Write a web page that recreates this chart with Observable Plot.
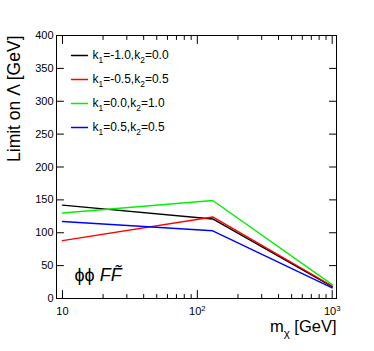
<!DOCTYPE html>
<html><head><meta charset="utf-8">
<script src="https://cdn.jsdelivr.net/npm/d3@7"></script>
<script src="https://cdn.jsdelivr.net/npm/@observablehq/plot@0.6"></script>
<style>
html,body{margin:0;padding:0;background:#fff;}
</style></head><body><div id="chart"></div>
<script>
// ---- data ----
const masses = [10, 130, 1000];
const seriesNames = ["k_{1}=-1.0,k_{2}=0.0", "k_{1}=-0.5,k_{2}=0.5", "k_{1}=0.0,k_{2}=1.0", "k_{1}=0.5,k_{2}=0.5"];
const seriesColors = ["#000000", "#ff0000", "#00f000", "#0000ff"];
const limitsK1m10 = [142, 121, 18];
const limitsK1m05 = [88, 124, 19];
const limitsK1p00 = [130, 149, 21];
const limitsK1p05 = [117, 103, 16];
const yTickValues = [0, 50, 100, 150, 200, 250, 300, 350, 400];
const xMajorTicks = [10, 100, 1000];
const xMinorTicks = [20, 30, 40, 50, 60, 70, 80, 90, 200, 300, 400, 500, 600, 700, 800, 900];
const xTickLabels = ["10", "10^{2}", "10^{3}"];
const xTitle = "m_{χ} [GeV]";
const yTitle = "Limit on Λ [GeV]";
const annotation = "ϕϕ #it{FF̃}";

const allLimits = [limitsK1m10, limitsK1m05, limitsK1p00, limitsK1p05];
const rows = allLimits.flatMap((vals, s) => vals.map((v, i) => ({series: seriesNames[s], m: masses[i], limit: v})));

const spike = {draw(ctx, l) { ctx.moveTo(0, 0); ctx.lineTo(0, -l); }};
const tickV = (data, opts) => Plot.vector(data, {anchor: "start", shape: spike, stroke: "#000", strokeWidth: 1, ...opts});

const font = "'Liberation Sans', Arial, Helvetica, sans-serif";

const legendMarks = seriesNames.flatMap((name, i) => [
  Plot.vector([name], {frameAnchor: "top-left", dx: 15, dy: 20 + 24 * i, rotate: 90, length: 16, anchor: "start", shape: spike, stroke: seriesColors[i], strokeWidth: 1.3}),
  Plot.text([name], {frameAnchor: "top-left", dx: 36, dy: 20 + 24 * i, textAnchor: "start", lineAnchor: "middle", fontSize: 12, fill: "#000"})
]);

const chart = Plot.plot({
  width: 374, height: 351,
  marginLeft: 56, marginRight: 38, marginTop: 35, marginBottom: 53,
  style: {fontFamily: font, background: "#fff", overflow: "visible"},
  x: {type: "log", domain: [9.03, 1076], axis: null},
  y: {domain: [0, 400], axis: null},
  color: {domain: seriesNames, range: seriesColors},
  marks: [
    Plot.line(rows, {x: "m", y: "limit", stroke: "series", strokeWidth: 1.4}),
    Plot.frame({stroke: "#000", strokeWidth: 1}),
    tickV(xMajorTicks, {x: d => d, frameAnchor: "bottom", length: 8, rotate: 0}),
    tickV(xMinorTicks, {x: d => d, frameAnchor: "bottom", length: 4, rotate: 0}),
    tickV(xMajorTicks, {x: d => d, frameAnchor: "top", length: 8, rotate: 180}),
    tickV(xMinorTicks, {x: d => d, frameAnchor: "top", length: 4, rotate: 180}),
    tickV(yTickValues, {y: d => d, frameAnchor: "left", length: 7, rotate: 90}),
    tickV(yTickValues, {y: d => d, frameAnchor: "right", length: 7, rotate: -90}),
    Plot.text(yTickValues, {y: d => d, frameAnchor: "left", dx: -3, textAnchor: "end", lineAnchor: "middle", text: d => String(d), fontSize: 11, fill: "#000"}),
    Plot.text(xMajorTicks, {x: d => d, frameAnchor: "bottom", dy: 13, textAnchor: "middle", lineAnchor: "middle", text: (d, i) => xTickLabels[i], fontSize: 11, fill: "#000"}),
    Plot.text([xTitle], {frameAnchor: "bottom-right", dy: 33, textAnchor: "end", lineAnchor: "bottom", fontSize: 16.5, fill: "#000"}),
    Plot.text([yTitle], {frameAnchor: "top-left", dx: -37, rotate: -90, textAnchor: "end", lineAnchor: "bottom", fontSize: 17.5, fill: "#000"}),
    Plot.text([annotation], {frameAnchor: "bottom-left", dx: 18, dy: -18, textAnchor: "start", lineAnchor: "bottom", fontSize: 18, fill: "#000"}),
    ...legendMarks
  ]
});

// rich text: _{sub}, ^{sup}, #it{italic}
function richify(el) {
  const s = el.textContent;
  if (!/(_\{|\^\{|#it\{)/.test(s)) return;
  const base = parseFloat(getComputedStyle(el).fontSize) || 12;
  const parts = [];
  let i = 0, buf = "";
  while (i < s.length) {
    let m = null;
    if (s.startsWith("_{", i)) m = ["sub", 2];
    else if (s.startsWith("^{", i)) m = ["sup", 2];
    else if (s.startsWith("#it{", i)) m = ["it", 4];
    if (m) {
      if (buf) parts.push(["n", buf]); buf = "";
      const j = s.indexOf("}", i + m[1]);
      parts.push([m[0], s.slice(i + m[1], j)]);
      i = j + 1;
    } else { buf += s[i]; i++; }
  }
  if (buf) parts.push(["n", buf]);
  while (el.firstChild) el.removeChild(el.firstChild);
  let shift = 0;
  const ns = "http://www.w3.org/2000/svg";
  for (const [kind, txt] of parts) {
    const t = document.createElementNS(ns, "tspan");
    t.textContent = txt;
    let target = 0;
    if (kind === "sub") { target = base * 0.32; t.setAttribute("font-size", base * 0.7); }
    else if (kind === "sup") { target = -base * 0.4; t.setAttribute("font-size", base * 0.7); }
    else if (kind === "it") { t.setAttribute("font-style", "italic"); }
    const d = target - shift;
    if (d !== 0) t.setAttribute("dy", d);
    shift = target;
    el.appendChild(t);
  }
}
document.getElementById("chart").appendChild(chart);
chart.querySelectorAll("text").forEach(richify);
</script></body></html>
